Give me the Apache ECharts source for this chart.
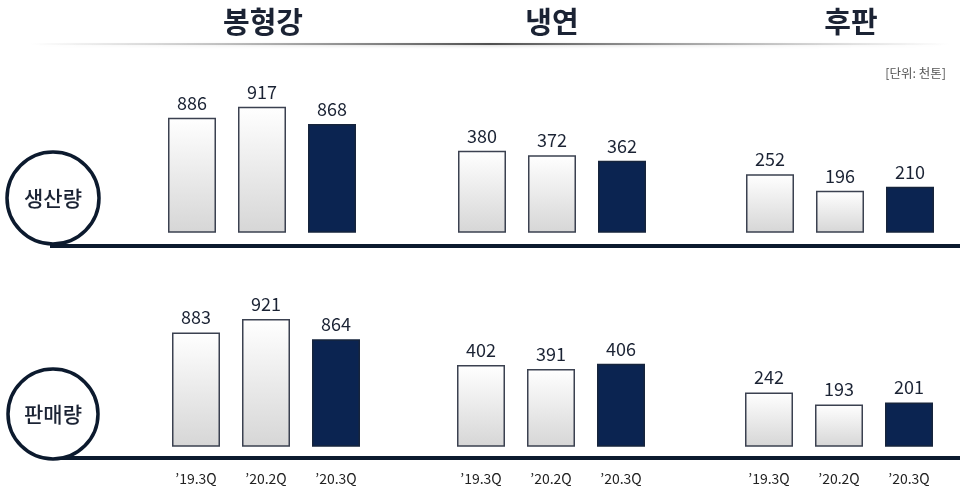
<!DOCTYPE html>
<html>
<head>
<meta charset="utf-8">
<script src="https://cdn.jsdelivr.net/npm/echarts@6/dist/echarts.min.js"></script>
<style>
  html, body { margin: 0; padding: 0; background: #fff; }
  #chart { width: 960px; height: 497px; }
</style>
</head>
<body>
<div id="chart"></div>
<script>
// Quarters shown under each product group
const periods = ['’19.3Q', '’20.2Q', '’20.3Q'];
// Product groups (column headings)
const products = ['봉형강', '냉연', '후판'];
// Row titles
const rowTitles = ['생산량', '판매량'];
const unitLabel = '[단위: 천톤]';

// Production (thousand tons)
const productionSection = [886, 917, 868];
const productionColdRolled = [380, 372, 362];
const productionPlate = [252, 196, 210];

// Sales (thousand tons)
const salesSection = [883, 921, 864];
const salesColdRolled = [402, 391, 406];
const salesPlate = [242, 193, 201];

const NAVY = '#0b2451';
const INK = '#1b2334';
const FONT = '"Noto Sans CJK KR", "Noto Sans", sans-serif';

const lightFill = {
  type: 'linear', x: 0, y: 0, x2: 0, y2: 1,
  colorStops: [{ offset: 0, color: '#ffffff' }, { offset: 1, color: '#d6d6d6' }]
};

function barData(values) {
  return values.map((v, i) => ({
    value: v,
    itemStyle: i === values.length - 1
      ? { color: NAVY, borderColor: '#16243c', borderWidth: 1.5 }
      : { color: lightFill, borderColor: '#3b4150', borderWidth: 1.5 }
  }));
}

// Six panels, each with its own value scale
const panels = [
  { values: productionSection,    left: 157, top: 60,  height: 172, min: 561, max: 1050, showLabels: false },
  { values: productionColdRolled, left: 447, top: 60,  height: 172, min: 234, max: 543,  showLabels: false },
  { values: productionPlate,      left: 735, top: 60,  height: 172, min: 58,  max: 635,  showLabels: false },
  { values: salesSection,         left: 161, top: 280, height: 166, min: 563, max: 1031, showLabels: true },
  { values: salesColdRolled,      left: 446, top: 280, height: 166, min: 173, max: 643,  showLabels: true },
  { values: salesPlate,           left: 734, top: 280, height: 166, min: 23,  max: 701,  showLabels: true }
];

const grid = panels.map(p => ({ left: p.left, top: p.top, width: 210, height: p.height }));
const xAxis = panels.map((p, i) => ({
  type: 'category', gridIndex: i, data: periods,
  axisLine: { show: false }, axisTick: { show: false },
  axisLabel: {
    show: p.showLabels, margin: 26, color: '#222', fontSize: 14, fontFamily: FONT
  }
}));
const yAxis = panels.map((p, i) => ({
  type: 'value', gridIndex: i, min: p.min, max: p.max, show: false
}));
const series = panels.map((p, i) => ({
  type: 'bar', xAxisIndex: i, yAxisIndex: i, barWidth: 48,
  data: barData(p.values),
  label: {
    show: true, position: 'top', distance: 6,
    color: INK, fontSize: 18, fontFamily: FONT
  },
  silent: true
}));

const headingX = [263, 552, 851];
const graphic = [];
products.forEach((name, i) => {
  graphic.push({
    type: 'text', x: headingX[i], y: 22,
    style: {
      text: name, fill: INK, fontSize: 29, fontWeight: 'bold', fontFamily: FONT,
      textAlign: 'center', textVerticalAlign: 'middle'
    }
  });
});
// Divider under headings, fading toward both ends
graphic.push({
  type: 'rect', shape: { x: 30, y: 43, width: 920, height: 2 },
  style: {
    fill: {
      type: 'linear', x: 0, y: 0, x2: 1, y2: 0,
      colorStops: [
        { offset: 0, color: 'rgba(140,140,140,0)' },
        { offset: 0.5, color: 'rgba(80,80,80,1)' },
        { offset: 1, color: 'rgba(140,140,140,0)' }
      ]
    },
    shadowBlur: 3, shadowColor: 'rgba(0,0,0,0.2)', shadowOffsetY: 1
  }
});
graphic.push({
  type: 'text', x: 946, y: 73,
  style: {
    text: unitLabel, fill: '#555', fontSize: 12.5, fontFamily: FONT,
    textAlign: 'right', textVerticalAlign: 'middle'
  }
});

// Baselines with the round row badges
const rows = [
  { cy: 198, r: 46, lineY: 246 },
  { cy: 414, r: 45, lineY: 458 }
];
rows.forEach((row, i) => {
  graphic.push({
    type: 'rect', shape: { x: 50, y: row.lineY - 2, width: 910, height: 4 },
    style: { fill: '#0c1a2e' }
  });
  graphic.push({
    type: 'circle', shape: { cx: 53, cy: row.cy, r: row.r },
    style: { fill: '#fff', stroke: '#0c1a2e', lineWidth: 3.5 }
  });
  graphic.push({
    type: 'text', x: 53, y: row.cy,
    style: {
      text: rowTitles[i], fill: INK, fontSize: 21, fontWeight: 500, fontFamily: FONT,
      textAlign: 'center', textVerticalAlign: 'middle'
    }
  });
});

const chart = echarts.init(document.getElementById('chart'), null, { renderer: 'canvas' });
chart.setOption({
  backgroundColor: '#fff',
  animation: false,
  grid, xAxis, yAxis, series, graphic
});
</script>
</body>
</html>
